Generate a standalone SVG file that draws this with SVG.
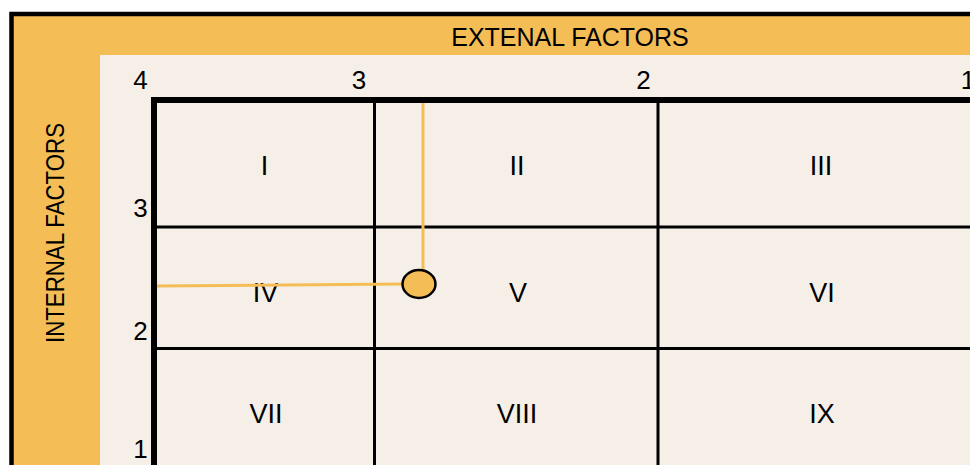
<svg xmlns="http://www.w3.org/2000/svg" width="970" height="465" viewBox="0 0 970 465">
<style>
text{font-family:"Liberation Sans",Arial,sans-serif;fill:#000}
.hdr{font-size:25px;text-anchor:middle}
.num{font-size:26px;text-anchor:middle}
.rom{font-size:27px;text-anchor:middle}
.thick{stroke:#000;stroke-width:6;fill:none}
.thin{stroke:#000;stroke-width:3;fill:none}
.ol{stroke:#F5BD56;stroke-width:3;fill:none}
</style>
<rect x="0" y="0" width="970" height="465" fill="#fff"/>
<g id="frame">
<rect x="11.5" y="14" width="980" height="470" fill="#F5BD56" stroke="#000" stroke-width="4.5"/>
<rect x="100" y="55" width="880" height="420" fill="#F6EFE8"/>
</g>
<g id="external-header"><text class="hdr" x="570" y="45.5">EXTENAL FACTORS</text></g>
<g id="internal-header"><text class="hdr" transform="translate(64,233) rotate(-90)" font-size="27" textLength="220" lengthAdjust="spacingAndGlyphs">INTERNAL FACTORS</text></g>
<g id="axis-labels">
<text class="num" x="140.5" y="89">4</text>
<text class="num" x="359" y="89">3</text>
<text class="num" x="643.5" y="89">2</text>
<text class="num" x="968" y="89">1</text>
<text class="num" x="140.5" y="217">3</text>
<text class="num" x="140.5" y="340">2</text>
<text class="num" x="140.5" y="458">1</text>
</g>
<g id="grid">
<line class="thin" x1="374.5" y1="100" x2="374.5" y2="470"/>
<line class="thin" x1="658" y1="100" x2="658" y2="470"/>
<line class="thin" x1="154" y1="227" x2="975" y2="227"/>
<line class="thin" x1="154" y1="348.5" x2="975" y2="348.5"/>
<line class="thick" x1="151" y1="100" x2="975" y2="100"/>
<line class="thick" x1="154" y1="97" x2="154" y2="470"/>
</g>
<g id="cell-I"><text class="rom" x="264.5" y="175">I</text></g>
<g id="cell-II"><text class="rom" x="517" y="175">II</text></g>
<g id="cell-III"><text class="rom" x="821" y="175">III</text></g>
<g id="cell-IV"><text class="rom" x="265.5" y="302">IV</text></g>
<g id="cell-V"><text class="rom" x="518" y="302">V</text></g>
<g id="cell-VI"><text class="rom" x="822" y="302">VI</text></g>
<g id="cell-VII"><text class="rom" x="266" y="422.5">VII</text></g>
<g id="cell-VIII"><text class="rom" x="517" y="422.5">VIII</text></g>
<g id="cell-IX"><text class="rom" x="822" y="422.5">IX</text></g>
<g id="connectors">
<line class="ol" x1="423" y1="103" x2="423" y2="272"/>
<line class="ol" x1="157" y1="286" x2="404" y2="284" stroke-width="2.5"/>
</g>
<g id="position-marker">
<ellipse cx="419" cy="284" rx="16.5" ry="14" fill="#F5BD56" stroke="#000" stroke-width="2.5"/>
</g>
</svg>
